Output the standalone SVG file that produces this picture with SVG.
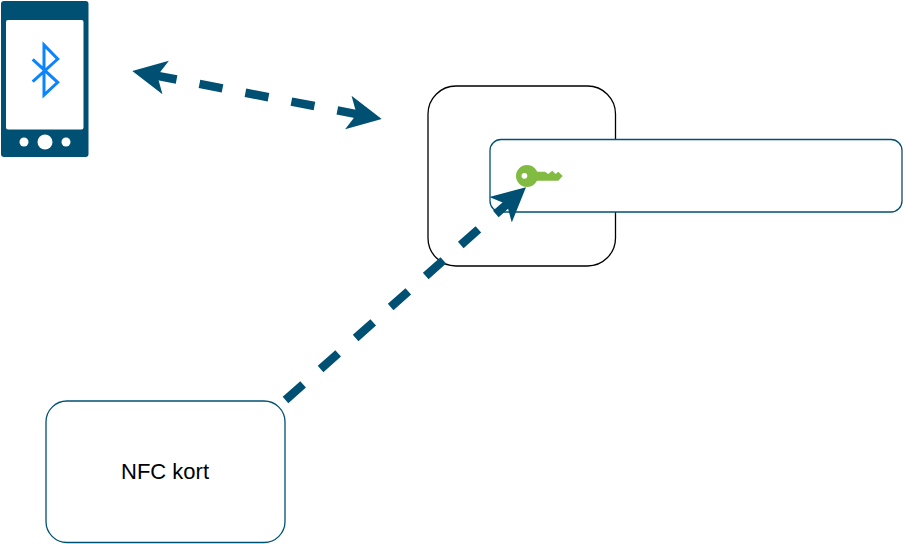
<svg xmlns="http://www.w3.org/2000/svg" width="903" height="544" viewBox="0 0 903 544">
<style>
.box{fill:#fff;stroke:#005073;stroke-width:1.3}
.lock{fill:#fff;stroke:#000;stroke-width:1.3}
.link{fill:none;stroke:#005073;stroke-width:8.5;stroke-dasharray:23.5 23.3}
.ph{fill:#005073}
.w{fill:#fff}
.k{fill:#82bb41}
text{font-family:"Liberation Sans",Arial,sans-serif;font-size:22px;fill:#000;text-anchor:middle}
</style>
<defs>
<marker id="h" markerUnits="userSpaceOnUse" markerWidth="36" markerHeight="36" viewBox="0 0 36 36" refX="12.4" refY="18" orient="auto-start-reverse">
<polygon points="34,18 0,1 8.5,18 0,35" fill="#005073"/>
</marker>
</defs>
<rect width="903" height="544" fill="#fff"/>
<g id="lock-body"><rect class="lock" x="428" y="86" width="187.5" height="180" rx="28"/></g>
<g id="handle"><rect class="box" x="490" y="139.5" width="412" height="72.5" rx="11"/></g>
<g id="key">
<path class="k" fill-rule="evenodd" d="M516 176a11 11 0 1 1 22 0a11 11 0 1 1-22 0zM521.5 175.8a2.9 2.9 0 1 0 5.8 0a2.9 2.9 0 1 0-5.8 0z"/>
<polygon class="k" points="535,171.7 545,171.7 548.3,174 552.3,170.7 555.7,174 558.3,171.7 562.7,176 558.3,180.7 535,180.7"/>
</g>
<g id="phone">
<rect class="ph" x="1" y="1" width="87.5" height="156" rx="3"/>
<rect class="w" x="6" y="20" width="77.5" height="109.5" rx="2"/>
<circle class="w" cx="24" cy="142" r="4.5"/><circle class="w" cx="45" cy="142" r="7.5"/><circle class="w" cx="66" cy="142" r="4.5"/>
<polyline fill="none" stroke="#0a84ff" stroke-width="3" points="32.7,59.3 57.7,82.3 44,95 44,45 57.7,59 32.7,81.7"/>
</g>
<g id="nfc-card"><rect class="box" x="46" y="401" width="239" height="141.5" rx="21"/><text x="165" y="478.5">NFC kort</text></g>
<g id="connectors">
<path class="link" d="M153.5 75.1L360.5 114.9" marker-start="url(#h)" marker-end="url(#h)"/>
<path class="link" d="M285.5 400L509.8 201.6" marker-end="url(#h)"/>
</g>
</svg>
